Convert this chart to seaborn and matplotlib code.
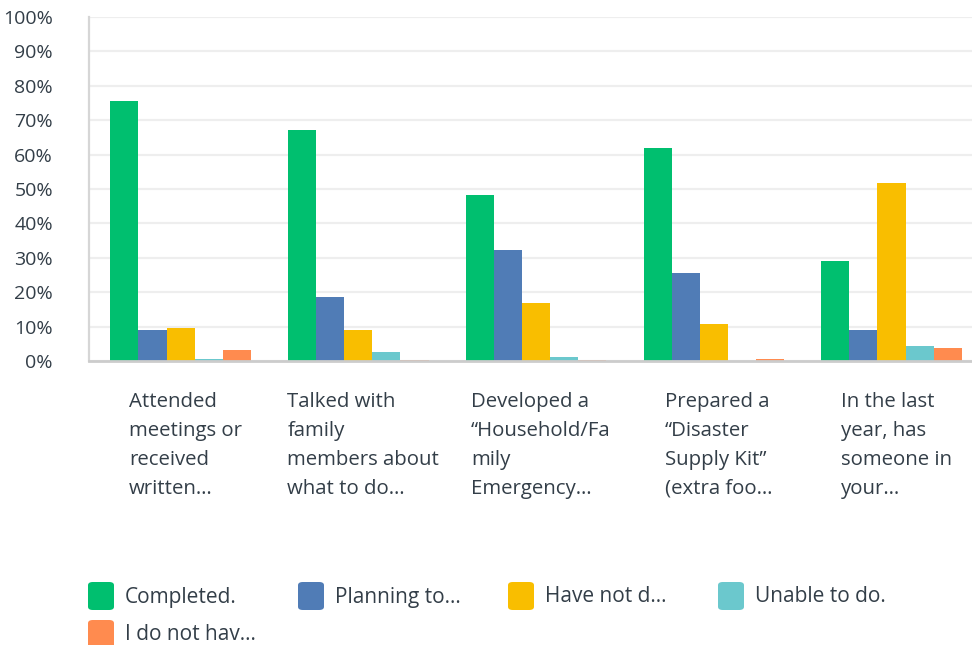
import matplotlib
matplotlib.use("Agg")
import matplotlib.pyplot as plt
from matplotlib.patches import FancyBboxPatch
from matplotlib.transforms import ScaledTranslation
import pandas as pd
import seaborn as sns

# question labels (as truncated in the survey export)
questions = [
    "Attended\nmeetings or\nreceived\nwritten…",
    "Talked with\nfamily\nmembers about\nwhat to do…",
    "Developed a\n“Household/Fa\nmily\nEmergency…",
    "Prepared a\n“Disaster\nSupply Kit”\n(extra foo…",
    "In the last\nyear, has\nsomeone in\nyour…",
]
answers = ["Completed.", "Planning to…", "Have not d…", "Unable to do.", "I do not hav…"]

completed = [75.6, 67.2, 48.3, 61.9, 29.1]
planning = [9.0, 18.6, 32.3, 25.6, 9.0]
have_not = [9.6, 9.0, 16.9, 10.8, 51.7]
unable = [0.6, 2.6, 1.2, 0.0, 4.4]
no_have = [3.2, 0.2, 0.2, 0.6, 3.8]

colors = ["#00BF6F", "#507CB6", "#F9BE00", "#6BC8CD", "#FF8B4F"]
text_col = "#333e48"

rows = []
for ans, vals in zip(answers, [completed, planning, have_not, unable, no_have]):
    for q, v in zip(questions, vals):
        rows.append({"question": q, "answer": ans, "pct": v})
df = pd.DataFrame(rows)

sns.set_style("white")
plt.rcParams["font.family"] = ["Open Sans", "DejaVu Sans"]

fig = plt.figure(figsize=(9.72, 6.45), dpi=100)
ax = fig.add_axes([0.0916, 0.4403, 0.9084, 0.5333])

sns.barplot(data=df, x="question", y="pct", hue="answer", order=questions,
            hue_order=answers, palette=colors, width=0.79, gap=0,
            saturation=1, linewidth=0, legend=False, ax=ax)

ax.set_ylim(0, 100)
ax.set_xlim(-0.515, 4.453)
ax.set_yticks(range(0, 101, 10))
ax.set_yticklabels([f"{t}%" for t in range(0, 101, 10)], fontsize=14, color=text_col)
ax.set_xticks(range(len(questions)))
ax.set_xticklabels(questions, fontsize=14.7, color=text_col, multialignment="left",
                   linespacing=1.6)
ax.tick_params(axis="y", length=0, pad=26)
ax.tick_params(axis="x", length=0, pad=22)
# nudge category labels a little to the right (after tick_params, which resets transforms)
shift = ScaledTranslation(5 / 100, 0, fig.dpi_scale_trans)
for lbl in ax.get_xticklabels():
    lbl.set_transform(lbl.get_transform() + shift)
ax.set_xlabel("")
ax.set_ylabel("")
ax.yaxis.grid(True, color="#eeeeee", linewidth=1.6)
ax.set_axisbelow(True)
for s in ["top", "right"]:
    ax.spines[s].set_visible(False)
ax.spines["left"].set_color("#d6d6d6")
ax.spines["left"].set_linewidth(1.6)
ax.spines["bottom"].set_color("#cccccc")
ax.spines["bottom"].set_linewidth(2)

# legend with rounded swatches
W, H = 972.0, 645.0
for i, (ans, c) in enumerate(zip(answers, colors)):
    col, row = i % 4, i // 4
    x0 = 88 + col * 210
    y0 = 610 + row * 38
    fig.patches.append(FancyBboxPatch((x0 / W, 1 - y0 / H), 26 / W, 28 / H,
                                      boxstyle="round,pad=0,rounding_size=0.005",
                                      transform=fig.transFigure, facecolor=c,
                                      edgecolor="none", figure=fig))
    fig.text((x0 + 37) / W, 1 - (y0 - 13) / H, ans, fontsize=15, color=text_col,
             ha="left", va="center")

fig.savefig("out.png", dpi=100)
